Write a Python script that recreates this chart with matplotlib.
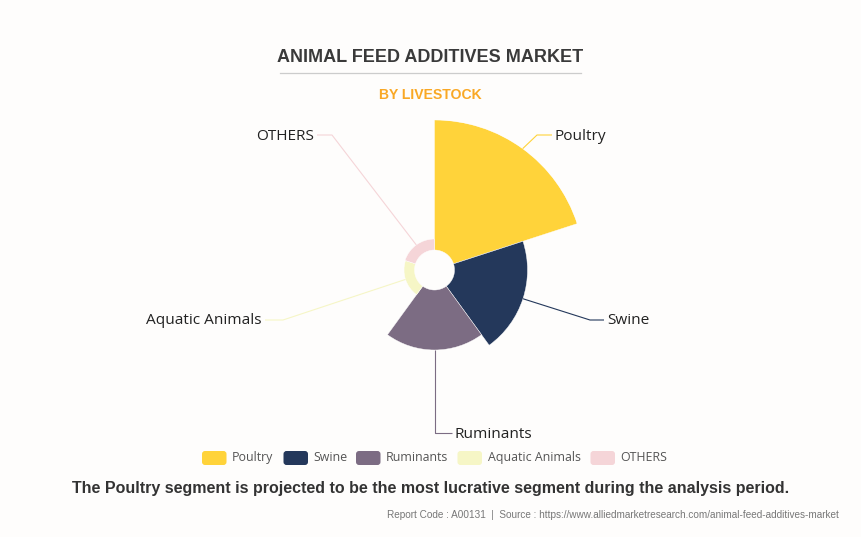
#!/usr/bin/env python3
"""Animal feed additives market by livestock: rose chart with equal slices."""
import numpy as np
import matplotlib
matplotlib.use("Agg")
import matplotlib.pyplot as plt
from matplotlib.patches import FancyBboxPatch

W, H = 861, 537
BG = "#FEFDFC"

categories = ["Poultry", "Swine", "Ruminants", "Aquatic Animals", "OTHERS"]
values = [130, 73, 60, 10.5, 11]  # radial length past the inner hole
colors = ["#FFD33A", "#24385B", "#7C6C83", "#F6F6C6", "#F5D5D8"]
title = "ANIMAL FEED ADDITIVES MARKET"
subtitle = "BY LIVESTOCK"
headline = "The Poultry segment is projected to be the most lucrative segment during the analysis period."
source = "Report Code : A00131  |  Source : https://www.alliedmarketresearch.com/animal-feed-additives-market"

CX, CY, HOLE, RMAX = 434.5, 270, 20, 150

fig = plt.figure(figsize=(W / 100, H / 100), dpi=100, facecolor=BG)

# overlay in pixel coordinates for text, leader lines and legend
ov = fig.add_axes([0, 0, 1, 1], zorder=3)
ov.set_xlim(0, W); ov.set_ylim(H, 0); ov.axis("off")

ax = fig.add_axes([(CX - RMAX) / W, 1 - (CY + RMAX) / H, 2 * RMAX / W, 2 * RMAX / H],
                  projection="polar", zorder=2)
ax.patch.set_alpha(0)
ax.set_theta_zero_location("N"); ax.set_theta_direction(-1)
ax.set_ylim(0, RMAX); ax.axis("off")

step = 2 * np.pi / len(values)
thetas = np.arange(len(values)) * step
ax.bar(thetas, values, width=step, bottom=HOLE, align="edge", color=colors,
       edgecolor="white", linewidth=0.3)

# leader lines start on the outer arc of each slice, mid angle
elbows = [((537, 135), (552, 135)), ((590, 320), (604, 320)), ((434.5, 433), (452, 433)),
          ((283, 320), (265, 320)), ((332, 135), (317, 135))]
label_pos = [(555, 136, "left"), (607, 321, "left"), (455, 434, "left"),
             (262, 321, "right"), (314, 136, "right")]
for i, name in enumerate(categories):
    mid = thetas[i] + step / 2
    r = HOLE + values[i]
    x0, y0 = CX + r * np.sin(mid), CY - r * np.cos(mid)
    (x1, y1), (x2, y2) = elbows[i]
    ov.plot([x0, x1, x2], [y0, y1, y2], color=colors[i], lw=0.8, solid_capstyle="butt")
    lx, ly, ha = label_pos[i]
    ov.text(lx, ly, name, ha=ha, va="center", fontsize=11.1, color="#222222", family="Open Sans")

# legend
swatch_x = [202, 283.5, 356, 457.5, 590.5]
for name, c, x in zip(categories, colors, swatch_x):
    ov.add_patch(FancyBboxPatch((x, 451), 24.5, 14, boxstyle="round,pad=0,rounding_size=3",
                                fc=c, ec="none"))
    ov.text(x + 30, 457.5, name, ha="left", va="center", fontsize=8.9, color="#555555",
            family="Open Sans")

ov.text(430.5, 57.5, title, ha="center", va="center", fontsize=12.95, fontweight="bold",
        color="#3A3A3A", family="Liberation Sans")
ov.plot([280, 580.5], [72.5, 72.5], color="#CCCCCC", lw=0.9)
ov.text(430.5, 95, subtitle, ha="center", va="center", fontsize=10.1, fontweight="bold",
        color="#F9A825", family="Liberation Sans")
ov.text(431, 488.5, headline, ha="center", va="center", fontsize=11.5, fontweight="bold",
        color="#333333", family="Liberation Sans")
ov.text(839, 515, source, ha="right", va="center", fontsize=7.18, color="#777777",
        family="Liberation Sans")

fig.savefig("out.png", dpi=100, facecolor=BG)
